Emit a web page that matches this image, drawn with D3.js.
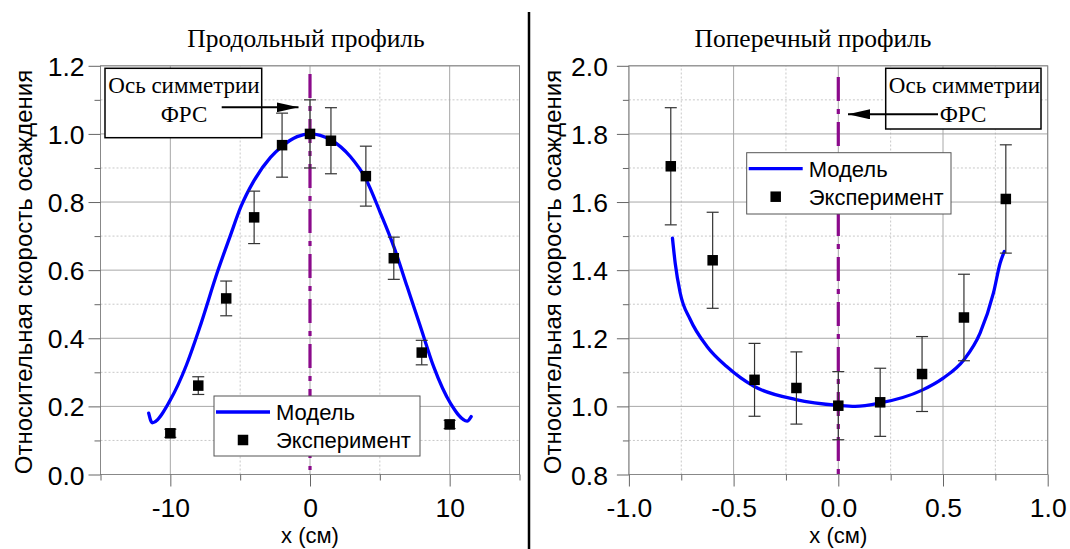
<!DOCTYPE html>
<html>
<head>
<meta charset="utf-8">
<script src="https://cdn.jsdelivr.net/npm/d3@7"></script>
<style>
  html, body { margin: 0; padding: 0; background: #fff; }
  svg { display: block; }
</style>
</head>
<body>
<svg id="chart" width="1070" height="549"></svg>
<script>
// ---------- Left panel: longitudinal profile ----------
const leftTitle = "Продольный профиль";
const leftXTicks = [-10, 0, 10];
const leftXMinor = [-15, -5, 5, 15];
const leftYTicks = [0.0, 0.2, 0.4, 0.6, 0.8, 1.0, 1.2];
const leftYMinor = [0.1, 0.3, 0.5, 0.7, 0.9, 1.1];
const leftExpX   = [-10, -8, -6, -4, -2, 0, 1.5, 4, 6, 8, 10];
const leftExpY   = [0.121, 0.261, 0.517, 0.755, 0.967, 1.0, 0.98, 0.876, 0.635, 0.358, 0.147];
const leftExpErr = [0.012, 0.026, 0.051, 0.077, 0.094, 0.1, 0.097, 0.088, 0.062, 0.036, 0.012];
const leftModelX = [-11.55, -11.3, -10.0, -8.86, -7.91, -6.6, -5.69, -4.97, -4.02, -2.83, -1.99, -0.92, 0.0,
                    1.47, 2.9, 3.97, 5.05, 6.0, 6.96, 7.91, 8.86, 10.06, 11.25, 11.54];
const leftModelY = [0.18, 0.152, 0.219, 0.32, 0.43, 0.598, 0.703, 0.784, 0.862, 0.931, 0.964, 0.992, 1.0,
                    0.983, 0.933, 0.87, 0.767, 0.669, 0.551, 0.434, 0.316, 0.209, 0.157, 0.17];

// ---------- Right panel: transverse profile ----------
const rightTitle = "Поперечный профиль";
const rightXTicks = [-1.0, -0.5, 0.0, 0.5, 1.0];
const rightXMinor = [-0.75, -0.25, 0.25, 0.75];
const rightYTicks = [0.8, 1.0, 1.2, 1.4, 1.6, 1.8, 2.0];
const rightYMinor = [0.9, 1.1, 1.3, 1.5, 1.7, 1.9];
const rightExpX   = [-0.8, -0.6, -0.4, -0.2, 0.0, 0.2, 0.4, 0.6, 0.8];
const rightExpY   = [1.705, 1.429, 1.078, 1.054, 1.002, 1.012, 1.095, 1.261, 1.609];
const rightExpErr = [0.172, 0.141, 0.107, 0.106, 0.1, 0.1, 0.11, 0.127, 0.159];
const rightModelX = [-0.792, -0.779, -0.755, -0.707, -0.627, -0.533, -0.403, -0.202, 0.0, 0.08, 0.2,
                     0.398, 0.501, 0.6, 0.677, 0.741, 0.773, 0.793];
const rightModelY = [1.494, 1.421, 1.333, 1.255, 1.176, 1.117, 1.059, 1.02, 1.003, 1.0, 1.01,
                     1.047, 1.083, 1.137, 1.215, 1.333, 1.421, 1.455];

// ---------- Shared texts ----------
const yAxisTitle = "Относительная скорость осаждения";
const xAxisTitle = "x (см)";
const legendModel = "Модель";
const legendExp = "Эксперимент";
const annotLine1 = "Ось симметрии";
const annotLine2 = "ФРС";

const SANS = '"Liberation Sans", Arial, sans-serif';
const SERIF = '"Liberation Serif", "Times New Roman", serif';
const svg = d3.select("#chart");

// arrow marker
svg.append("defs").append("marker")
  .attr("id", "arrow").attr("viewBox", "0 0 22 10")
  .attr("refX", 22).attr("refY", 5)
  .attr("markerWidth", 22).attr("markerHeight", 10)
  .attr("markerUnits", "userSpaceOnUse").attr("orient", "auto")
  .append("path").attr("d", "M0,0 L22,5 L0,10 Z").attr("fill", "#000");

function panel(cfg) {
  const x = d3.scaleLinear().domain(cfg.xDomain).range(cfg.xRange);
  const y = d3.scaleLinear().domain(cfg.yDomain).range(cfg.yRange);
  const g = svg.append("g");
  const [x0, x1] = cfg.xRange, [yb, yt] = cfg.yRange;

  // minor grid (dotted)
  g.selectAll(".vminor").data(cfg.xMinor).join("line")
    .attr("x1", d => x(d)).attr("x2", d => x(d)).attr("y1", yb).attr("y2", yt)
    .attr("stroke", "#c8c8c8").attr("stroke-width", 1).attr("stroke-dasharray", "2,2");
  g.selectAll(".hminor").data(cfg.yMinor).join("line")
    .attr("y1", d => y(d)).attr("y2", d => y(d)).attr("x1", x0).attr("x2", x1)
    .attr("stroke", "#c8c8c8").attr("stroke-width", 1).attr("stroke-dasharray", "2,2");
  // major grid
  g.selectAll(".vmajor").data(cfg.xTicks).join("line")
    .attr("x1", d => x(d)).attr("x2", d => x(d)).attr("y1", yb).attr("y2", yt)
    .attr("stroke", "#a8a8a8").attr("stroke-width", 1);
  g.selectAll(".hmajor").data(cfg.yTicks).join("line")
    .attr("y1", d => y(d)).attr("y2", d => y(d)).attr("x1", x0).attr("x2", x1)
    .attr("stroke", "#a8a8a8").attr("stroke-width", 1);
  // frame
  g.append("rect").attr("x", x0).attr("y", yt).attr("width", x1 - x0).attr("height", yb - yt)
    .attr("fill", "none").attr("stroke", "#888").attr("stroke-width", 1);

  // axes
  const styleAxis = sel => {
    sel.select(".domain").remove();
    sel.selectAll(".tick line").attr("stroke", "#666");
    sel.selectAll(".tick text").attr("fill", "#000").style("font-family", SANS).style("font-size", "26.5px");
  };
  g.append("g").attr("transform", `translate(0,${yb})`)
    .call(d3.axisBottom(x).tickValues(cfg.xTicks).tickFormat(cfg.xFmt).tickSize(12).tickPadding(12))
    .call(styleAxis);
  g.append("g").attr("transform", `translate(0,${yb})`)
    .call(d3.axisBottom(x).tickValues(cfg.xMinor).tickFormat("").tickSize(6))
    .call(styleAxis);
  g.append("g").attr("transform", `translate(${x0},0)`)
    .call(d3.axisLeft(y).tickValues(cfg.yTicks).tickFormat(d => d.toFixed(1)).tickSize(12).tickPadding(cfg.yPad))
    .call(styleAxis)
    .selectAll(".tick text").attr("dy", "0.36em");
  g.append("g").attr("transform", `translate(${x0},0)`)
    .call(d3.axisLeft(y).tickValues(cfg.yMinor).tickFormat("").tickSize(6))
    .call(styleAxis);

  // symmetry axis (dash-dot purple)
  g.append("line").attr("x1", x(0)).attr("x2", x(0))
    .attr("y1", cfg.symTop).attr("y2", cfg.symBottom)
    .attr("stroke", "#8b0a8b").attr("stroke-width", 3.2).attr("stroke-dasharray", "24,8,5,8");

  // model curve
  const model = cfg.modelX.map((v, i) => [v, cfg.modelY[i]]);
  g.append("path").datum(model)
    .attr("d", d3.line().x(d => x(d[0])).y(d => y(d[1])).curve(d3.curveMonotoneX))
    .attr("fill", "none").attr("stroke", "#0000ff").attr("stroke-width", 3.3)
    .attr("stroke-linejoin", "round").attr("stroke-linecap", "round");

  // error bars
  const exp = cfg.expX.map((v, i) => ({ x: v, y: cfg.expY[i], e: cfg.expErr[i] }));
  const eb = g.append("g").attr("stroke", "#333").attr("stroke-width", 1.2);
  eb.selectAll(".ev").data(exp).join("line")
    .attr("x1", d => x(d.x)).attr("x2", d => x(d.x))
    .attr("y1", d => y(d.y + d.e)).attr("y2", d => y(d.y - d.e));
  eb.selectAll(".ct").data(exp).join("line")
    .attr("x1", d => x(d.x) - 6).attr("x2", d => x(d.x) + 6)
    .attr("y1", d => y(d.y + d.e)).attr("y2", d => y(d.y + d.e));
  eb.selectAll(".cb").data(exp).join("line")
    .attr("x1", d => x(d.x) - 6).attr("x2", d => x(d.x) + 6)
    .attr("y1", d => y(d.y - d.e)).attr("y2", d => y(d.y - d.e));
  // points
  const S = 10.5;
  g.selectAll(".pt").data(exp).join("rect")
    .attr("x", d => x(d.x) - S / 2).attr("y", d => y(d.y) - S / 2)
    .attr("width", S).attr("height", S).attr("fill", "#000");

  // titles
  svg.append("text").attr("x", cfg.titleX).attr("y", 47).attr("text-anchor", "middle")
    .style("font-family", SERIF).style("font-size", "25.5px").text(cfg.title);
  svg.append("text").attr("x", (x0 + x1) / 2).attr("y", 543).attr("text-anchor", "middle")
    .style("font-family", SANS).style("font-size", "22px").text(xAxisTitle);
  svg.append("text").attr("transform", `translate(${cfg.yTitleX},272) rotate(-90)`)
    .attr("text-anchor", "middle")
    .style("font-family", SANS).style("font-size", "24px").text(yAxisTitle);

  // annotation box
  const a = cfg.annot;
  g.append("rect").attr("x", a.bx).attr("y", a.by).attr("width", a.bw).attr("height", a.bh)
    .attr("fill", "#fff").attr("stroke", "#000").attr("stroke-width", 1.5);
  g.append("text").attr("x", a.tx).attr("y", a.by + 25).attr("text-anchor", "middle")
    .style("font-family", SERIF).style("font-size", "23px").text(annotLine1);
  g.append("text").attr("x", a.t2x).attr("y", a.by + 54).attr("text-anchor", "middle")
    .style("font-family", SERIF).style("font-size", "23px").text(annotLine2);
  g.append("line").attr("x1", a.ax1).attr("x2", a.ax2).attr("y1", a.ay).attr("y2", a.ay)
    .attr("stroke", "#000").attr("stroke-width", 2).attr("marker-end", "url(#arrow)");

  // legend
  const L = cfg.legend;
  const lg = g.append("g").attr("transform", `translate(${L.x},${L.y})`);
  lg.append("rect").attr("width", L.w).attr("height", L.h)
    .attr("fill", "#fff").attr("stroke", "#555").attr("stroke-width", 1);
  lg.append("line").attr("x1", 2).attr("x2", 56).attr("y1", 16).attr("y2", 16)
    .attr("stroke", "#0000ff").attr("stroke-width", 3.3);
  lg.append("text").attr("x", 62).attr("y", 24).style("font-family", SANS).style("font-size", "22px").text(legendModel);
  lg.append("rect").attr("x", 29 - S / 2).attr("y", 44 - S / 2).attr("width", S).attr("height", S).attr("fill", "#000");
  lg.append("text").attr("x", 62).attr("y", 52).style("font-family", SANS).style("font-size", "22px").text(legendExp);
}

panel({
  xDomain: [-15, 15], xRange: [100.5, 519.5],
  yDomain: [0, 1.2], yRange: [474.5, 65.8],
  xTicks: leftXTicks, xMinor: leftXMinor, yTicks: leftYTicks, yMinor: leftYMinor,
  xFmt: d => String(d), yPad: 4,
  modelX: leftModelX, modelY: leftModelY,
  expX: leftExpX, expY: leftExpY, expErr: leftExpErr,
  symTop: 74, symBottom: 470,
  title: leftTitle, titleX: 306, yTitleX: 32,
  annot: { bx: 105, by: 68.3, bw: 156.7, bh: 69.4, tx: 184, t2x: 184, ax1: 221.7, ax2: 298.5, ay: 107.3 },
  legend: { x: 214, y: 396, w: 206, h: 60 }
});

panel({
  xDomain: [-1, 1], xRange: [628.9, 1047.7],
  yDomain: [0.8, 2.0], yRange: [474.5, 65.8],
  xTicks: rightXTicks, xMinor: rightXMinor, yTicks: rightYTicks, yMinor: rightYMinor,
  xFmt: d => d.toFixed(1), yPad: 9,
  modelX: rightModelX, modelY: rightModelY,
  expX: rightExpX, expY: rightExpY, expErr: rightExpErr,
  symTop: 77, symBottom: 474,
  title: rightTitle, titleX: 813, yTitleX: 561,
  annot: { bx: 885.7, by: 68.3, bw: 155.3, bh: 60.7, tx: 964.5, t2x: 963, ax1: 938, ax2: 848, ay: 114.3 },
  legend: { x: 746.7, y: 152.7, w: 204.3, h: 61.3 }
});

// separator between panels
svg.append("line").attr("x1", 529).attr("x2", 529).attr("y1", 12).attr("y2", 549)
  .attr("stroke", "#000").attr("stroke-width", 2.5);
</script>
</body>
</html>
